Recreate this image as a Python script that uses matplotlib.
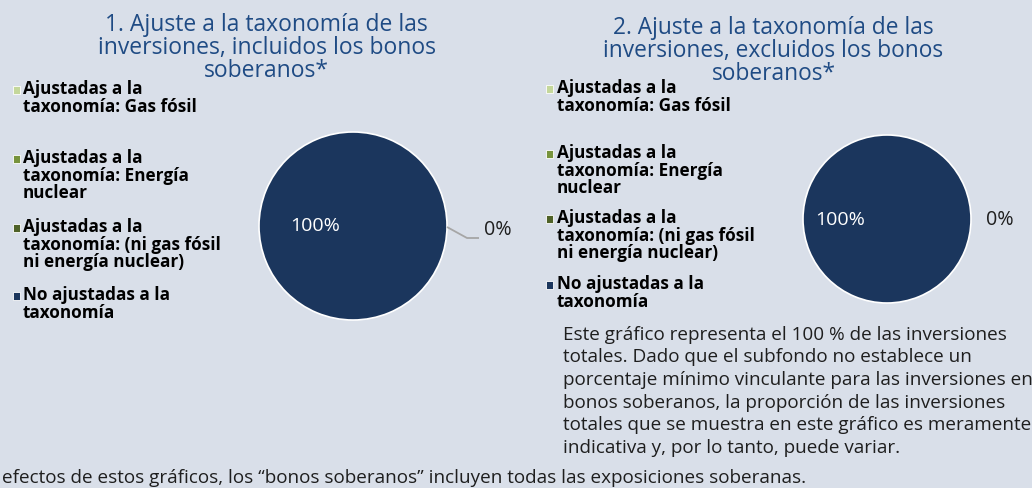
import matplotlib.pyplot as plt
from matplotlib.patches import Rectangle

# Data
categories = ['Ajustadas a la\ntaxonomía: Gas fósil',
              'Ajustadas a la\ntaxonomía: Energía\nnuclear',
              'Ajustadas a la\ntaxonomía: (ni gas fósil\nni energía nuclear)',
              'No ajustadas a la\ntaxonomía']
values_incl = [0, 0, 0, 100]
values_excl = [0, 0, 0, 100]
colors = ['#c4d79b', '#77933c', '#4f6228', '#1b365d']
titles = ['1. Ajuste a la taxonomía de las\ninversiones, incluidos los bonos\nsoberanos*',
          '2. Ajuste a la taxonomía de las\ninversiones, excluidos los bonos\nsoberanos*']
note = ('Este gráfico representa el 100 % de las inversiones\n'
        'totales. Dado que el subfondo no establece un\n'
        'porcentaje mínimo vinculante para las inversiones en\n'
        'bonos soberanos, la proporción de las inversiones\n'
        'totales que se muestra en este gráfico es meramente\n'
        'indicativa y, por lo tanto, puede variar.')
footnote = ('efectos de estos gráficos, los “bonos soberanos” incluyen '
            'todas las exposiciones soberanas.')

bg = '#d9dfe9'
title_color = '#1f4b84'
text_color = '#1e1e1e'
plt.rcParams['font.family'] = ['Open Sans', 'DejaVu Sans']

W, H = 1032, 488
fig = plt.figure(figsize=(W / 100, H / 100), dpi=100, facecolor=bg)
renderer = fig.canvas.get_renderer()


def fy(y):
    return 1 - y / H


def fit(t, target_w, pitch=None):
    # scale the font so the widest line has the width seen in the reference
    w = t.get_window_extent(renderer).width
    t.set_fontsize(t.get_fontsize() * target_w / w)
    ls = None
    if pitch is not None:
        tmp = fig.text(0, 0, 'A', fontsize=t.get_fontsize(), family=t.get_family(),
                       fontweight=t.get_fontweight(), linespacing=1)
        h1 = tmp.get_window_extent(renderer).height
        tmp.set_text('A\nA')
        h2 = tmp.get_window_extent(renderer).height
        tmp.remove()
        ls = pitch / (h2 - h1)
        t.set_linespacing(ls)
    return t.get_fontsize(), ls


def last_base(first, text, pitch):
    # matplotlib puts the baseline of the last line at the anchor
    return first + text.count('\n') * pitch


panels = [
    dict(vals=values_incl, cx=353, cy=226, r=94,
         tx=266.5, ty=32, tw=337,
         mx=16.3, tx0=23, base=[94, 163, 232, 300],
         big=(315, 226), small=(498, 230), leader=True),
    dict(vals=values_excl, cx=887, cy=219, r=84,
         tx=773.5, ty=35, tw=341,
         mx=549.5, tx0=557, base=[93, 158, 223, 289],
         big=(840, 220), small=(1000, 220), leader=False),
]

TP, LP, NP = 22.6, 17.6, 24

for i, p in enumerate(panels):
    cx, cy, r = p['cx'], p['cy'], p['r']
    ax = fig.add_axes([(cx - r) / W, fy(cy + r), 2 * r / W, 2 * r / H])
    wedges, _ = ax.pie(p['vals'], colors=colors, startangle=0, counterclock=False,
                       wedgeprops=dict(edgecolor='white', linewidth=1.2))
    ax.set_xlim(-1, 1)
    ax.set_ylim(-1, 1)
    ax.set_aspect('equal')
    ax.axis('off')

    def dx(px):
        return (px - cx) / r

    def dy(py):
        return (cy - py) / r

    total = sum(p['vals'])
    t = ax.text(dx(p['big'][0]), dy(p['big'][1]), f"{p['vals'][-1] / total:.0%}",
                color='white', fontsize=14, ha='center', va='center')
    fit(t, 50)
    t = ax.text(dx(p['small'][0]), dy(p['small'][1]),
                f"{sum(p['vals'][:-1]) / total:.0%}",
                color=text_color, fontsize=14, ha='center', va='center')
    fit(t, 28)
    if p['leader']:
        ax.plot([dx(447), dx(467), dx(479)], [dy(227), dy(238), dy(238)],
                color='#a6a6a6', lw=1.3, clip_on=False, solid_capstyle='butt')

    t = fig.text(p['tx'] / W, fy(last_base(p['ty'], titles[i], TP)), titles[i],
                 ha='center', va='baseline', multialignment='center',
                 fontsize=16, color=title_color)
    fit(t, p['tw'], pitch=TP)

    # legend entries, one slot per category as in the original layout
    leg_texts = []
    for w, lab, b in zip(wedges, categories, p['base']):
        fig.add_artist(Rectangle(((p['mx'] - 3.6) / W, fy(b - 0.5)), 7.2 / W, 7.2 / H,
                                 transform=fig.transFigure, facecolor=w.get_facecolor(),
                                 edgecolor='white', lw=0.6))
        leg_texts.append(fig.text(p['tx0'] / W, fy(last_base(b, lab, LP)), lab,
                                  ha='left', va='baseline', fontsize=12,
                                  fontweight='bold', color='black'))
    size, ls = fit(leg_texts[2], 197, pitch=LP)
    for t in leg_texts:
        t.set_fontsize(size)
        t.set_linespacing(ls)

t = fig.text(563 / W, fy(last_base(333, note, NP)), note, ha='left', va='baseline',
             fontsize=12, color=text_color)
fit(t, 467, pitch=NP)
t = fig.text(2 / W, fy(483), footnote, ha='left', va='baseline',
             fontsize=12, color=text_color)
fit(t, 798)

fig.savefig('out.png', dpi=100, facecolor=bg)
